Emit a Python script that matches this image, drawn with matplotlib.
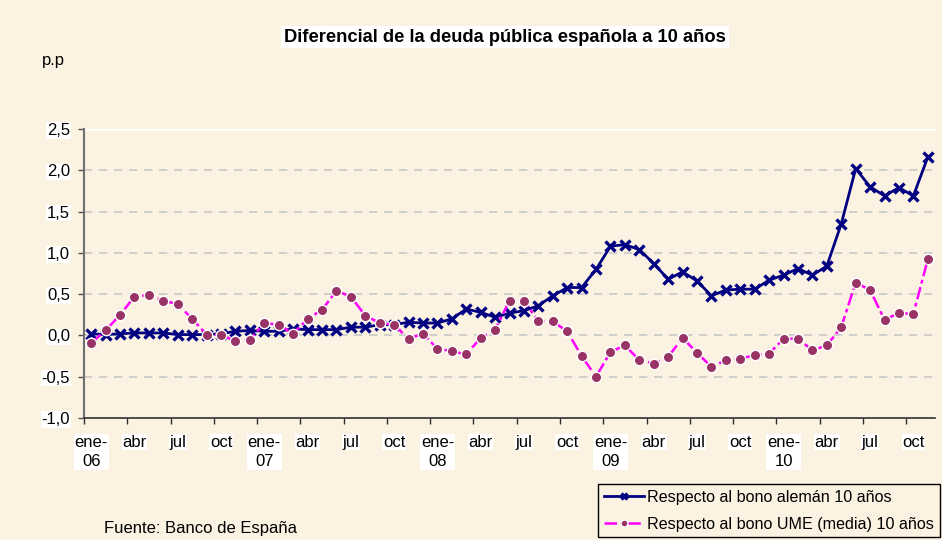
import numpy as np
import matplotlib
matplotlib.use('Agg')
import matplotlib.pyplot as plt
from matplotlib.ticker import FixedLocator, FuncFormatter

plt.rcParams['font.family'] = ['Liberation Sans', 'DejaVu Sans']

# Monthly data ene-06 .. nov-10 (p.p.)
aleman = [0.02, 0.01, 0.02, 0.03, 0.03, 0.03, 0.01, 0.01, 0.01, 0.02,
          0.05, 0.06, 0.05, 0.05, 0.08, 0.07, 0.07, 0.07, 0.10, 0.10,
          0.13, 0.13, 0.16, 0.15, 0.15, 0.20, 0.32, 0.28, 0.22, 0.27,
          0.30, 0.36, 0.48, 0.58, 0.58, 0.80, 1.08, 1.10, 1.04, 0.87,
          0.68, 0.77, 0.66, 0.48, 0.55, 0.56, 0.56, 0.67, 0.73, 0.81,
          0.73, 0.84, 1.35, 2.02, 1.80, 1.69, 1.79, 1.69, 2.16]
ume = [-0.09, 0.06, 0.25, 0.47, 0.49, 0.42, 0.38, 0.20, 0.01, 0.01,
       -0.07, -0.05, 0.15, 0.13, 0.02, 0.20, 0.31, 0.54, 0.47, 0.24,
       0.15, 0.13, -0.04, 0.02, -0.16, -0.19, -0.23, -0.03, 0.07, 0.42,
       0.42, 0.17, 0.17, 0.05, -0.25, -0.50, -0.20, -0.12, -0.30, -0.34,
       -0.26, -0.03, -0.21, -0.38, -0.30, -0.28, -0.24, -0.22, -0.04, -0.04,
       -0.18, -0.12, 0.10, 0.64, 0.55, 0.19, 0.27, 0.26, 0.92]

tick_labels = ['ene-\n06', 'abr', 'jul', 'oct',
               'ene-\n07', 'abr', 'jul', 'oct',
               'ene-\n08', 'abr', 'jul', 'oct',
               'ene-\n09', 'abr', 'jul', 'oct',
               'ene-\n10', 'abr', 'jul', 'oct']

bg = '#FCF2E2'
x = np.arange(len(aleman))

fig = plt.figure(figsize=(9.42, 5.40), dpi=100, facecolor=bg)
ax = fig.add_axes([84 / 942, 1 - 418 / 540, 851 / 942, 289 / 540])
ax.set_facecolor(bg)

# gridlines
for yv in [-0.5, 0.0, 0.5, 1.0, 1.5, 2.0]:
    ax.axhline(yv, color='#C8C8C8', lw=1.2, ls=(0, (5, 4)), zorder=1)
ax.axhline(2.5, color='white', lw=2, zorder=1)

ax.plot(x, aleman, color='#000080', lw=2, marker='x', ms=6.5, mew=2.4,
        label='Respecto al bono alemán 10 años', zorder=3)
ax.plot(x, ume, color='#FF00FF', lw=1.8, ls=(0, (5, 1.5, 1.5, 1.5)),
        marker='o', ms=7.5, mfc='#993366', mec='white', mew=1,
        label='Respecto al bono UME (media) 10 años', zorder=4)

ax.set_xlim(-0.5, len(aleman) - 0.5)
ax.set_ylim(-1.0, 2.5)

for s in ['top', 'right']:
    ax.spines[s].set_visible(False)
ax.spines['left'].set_color('#707070')
ax.spines['left'].set_linewidth(1.5)
ax.spines['bottom'].set_color('#303030')
ax.spines['bottom'].set_linewidth(1.2)

ax.set_yticks(np.arange(-1.0, 2.51, 0.5))
ax.yaxis.set_major_formatter(FuncFormatter(lambda v, p: f'{v:.1f}'.replace('.', ',')))
ax.tick_params(axis='y', direction='out', length=4, width=1, colors='#505050',
               labelcolor='black', labelsize=12, pad=6)
for t in ax.get_yticklabels():
    t.set_bbox(dict(facecolor='white', edgecolor='none', pad=0.5))

# tick marks on category boundaries, labels at category centres
ax.xaxis.set_major_locator(FixedLocator(np.arange(-0.5, len(aleman) - 1, 3)))
ax.xaxis.set_minor_locator(FixedLocator(np.arange(0, len(aleman), 3)))
ax.xaxis.set_major_formatter(FuncFormatter(lambda v, p: ''))
ax.set_xticks(np.arange(0, len(aleman), 3), tick_labels, minor=True)
ax.tick_params(axis='x', which='major', direction='out', length=4, width=1,
               colors='#303030')
ax.tick_params(axis='x', which='minor', length=0, labelsize=12, pad=12)
for t in ax.get_xticklabels(minor=True):
    t.set_verticalalignment('top')
    t.set_linespacing(1.35)
    t.set_bbox(dict(facecolor='white', edgecolor='none', pad=0.5))

fig.text(505 / 942, 1 - 37 / 540, 'Diferencial de la deuda pública española a 10 años',
         ha='center', va='center', fontsize=13.2, fontweight='bold',
         bbox=dict(facecolor='white', edgecolor='none', pad=2))
fig.text(42 / 942, 1 - 60 / 540, 'p.p', ha='left', va='center', fontsize=12)
fig.text(104 / 942, 1 - 528 / 540, 'Fuente: Banco de España', ha='left',
         va='center', fontsize=12)

leg = fig.legend(loc='upper left', bbox_to_anchor=(598 / 942, 1 - 484 / 540),
                 fontsize=11.6, frameon=True, fancybox=False, edgecolor='black',
                 facecolor=bg, framealpha=1, handlelength=2.5, handletextpad=0.2,
                 borderpad=0.35, labelspacing=0.75, borderaxespad=0)
leg.get_frame().set_linewidth(1)
for h in leg.legend_handles:
    h.set_markersize(5)

fig.savefig('out.png', dpi=100, facecolor=bg)
